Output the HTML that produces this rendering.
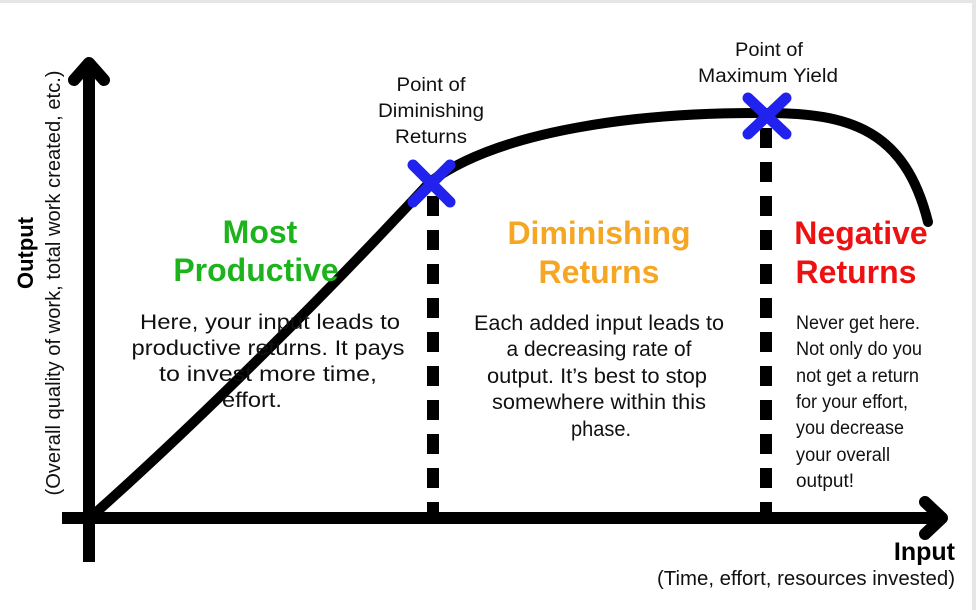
<!DOCTYPE html>
<html><head><meta charset="utf-8"><style>
html,body{margin:0;padding:0;background:#fff;}
svg{display:block;font-family:"Liberation Sans",Arial,sans-serif;}
</style></head><body>
<svg width="976" height="610" viewBox="0 0 976 610" xmlns="http://www.w3.org/2000/svg">
<rect x="0" y="0" width="976" height="610" fill="#fff"/>
<rect x="0" y="0" width="976" height="3" fill="#e6e6e6"/>
<rect x="972" y="0" width="4" height="610" fill="#e6e6e6"/>
<line x1="89" y1="66" x2="89" y2="562" stroke="#000" stroke-width="12"/>
<polyline points="74,80 89,63 104,80" fill="none" stroke="#000" stroke-width="12" stroke-linecap="round" stroke-linejoin="round"/>
<line x1="62" y1="518" x2="938" y2="518" stroke="#000" stroke-width="12"/>
<polyline points="925,502 942,518 925,534" fill="none" stroke="#000" stroke-width="12" stroke-linecap="round" stroke-linejoin="round"/>
<path d="M92,516 C200,420 330,290 430,182 C500,130 640,112 766,113 C850,113 905,130 928,222" fill="none" stroke="#000" stroke-width="10" stroke-linecap="round"/>
<line x1="433" y1="196" x2="433" y2="512" stroke="#000" stroke-width="12" stroke-dasharray="20,14"/>
<line x1="766" y1="128" x2="766" y2="512" stroke="#000" stroke-width="12" stroke-dasharray="20,14"/>
<g stroke="#2222ee" stroke-width="11" stroke-linecap="round">
<line x1="413" y1="165" x2="450" y2="202"/><line x1="450" y1="165" x2="413" y2="202"/>
<line x1="748" y1="98" x2="786" y2="134"/><line x1="786" y1="98" x2="748" y2="134"/>
</g>
<g font-size="19" fill="#111" text-anchor="middle">
<text x="431" y="91" textLength="69" lengthAdjust="spacingAndGlyphs">Point of</text>
<text x="431" y="117" textLength="106" lengthAdjust="spacingAndGlyphs">Diminishing</text>
<text x="431" y="143" textLength="72" lengthAdjust="spacingAndGlyphs">Returns</text>
<text x="769" y="56" textLength="68" lengthAdjust="spacingAndGlyphs">Point of</text>
<text x="768" y="82" textLength="140" lengthAdjust="spacingAndGlyphs">Maximum Yield</text>
</g>
<g font-size="32" font-weight="bold" text-anchor="middle">
<text x="260" y="243" fill="#1db31d">Most</text><text x="256" y="281" fill="#1db31d">Productive</text>
<text x="599" y="244" fill="#f5a623">Diminishing</text><text x="599" y="283" fill="#f5a623">Returns</text>
<text x="861" y="244" fill="#ee1111">Negative</text><text x="856" y="283" fill="#ee1111">Returns</text>
</g>
<g font-size="21" fill="#111" text-anchor="middle">
<text x="270" y="329" textLength="260" lengthAdjust="spacingAndGlyphs">Here, your input leads to</text>
<text x="268" y="355" textLength="273" lengthAdjust="spacingAndGlyphs">productive returns. It pays</text>
<text x="268" y="381" textLength="218" lengthAdjust="spacingAndGlyphs">to invest more time,</text>
<text x="252" y="407" textLength="60" lengthAdjust="spacingAndGlyphs">effort.</text>
<text x="599" y="330" textLength="250" lengthAdjust="spacingAndGlyphs">Each added input leads to</text>
<text x="599" y="356" textLength="185" lengthAdjust="spacingAndGlyphs">a decreasing rate of</text>
<text x="597" y="383" textLength="220" lengthAdjust="spacingAndGlyphs">output. It’s best to stop</text>
<text x="599" y="409" textLength="214" lengthAdjust="spacingAndGlyphs">somewhere within this</text>
<text x="601" y="436" textLength="60" lengthAdjust="spacingAndGlyphs">phase.</text>
</g>
<g font-size="19" fill="#111">
<text x="796" y="329" textLength="124" lengthAdjust="spacingAndGlyphs">Never get here.</text>
<text x="796" y="355" textLength="126" lengthAdjust="spacingAndGlyphs">Not only do you</text>
<text x="796" y="382" textLength="123" lengthAdjust="spacingAndGlyphs">not get a return</text>
<text x="796" y="408" textLength="112" lengthAdjust="spacingAndGlyphs">for your effort,</text>
<text x="796" y="434" textLength="108" lengthAdjust="spacingAndGlyphs">you decrease</text>
<text x="796" y="461" textLength="94" lengthAdjust="spacingAndGlyphs">your overall</text>
<text x="796" y="487" textLength="58" lengthAdjust="spacingAndGlyphs">output!</text>
</g>
<g text-anchor="middle">
<text transform="translate(33,253) rotate(-90)" font-size="22" font-weight="bold" fill="#000">Output</text>
<text transform="translate(60,283) rotate(-90)" font-size="20" fill="#111" textLength="425" lengthAdjust="spacingAndGlyphs">(Overall quality of work, total work created, etc.)</text>
</g>
<g text-anchor="end">
<text x="955" y="560" font-size="25" font-weight="bold" fill="#000">Input</text>
<text x="955" y="585" font-size="20" fill="#111" textLength="298" lengthAdjust="spacingAndGlyphs">(Time, effort, resources invested)</text>
</g>
</svg>
</body></html>
